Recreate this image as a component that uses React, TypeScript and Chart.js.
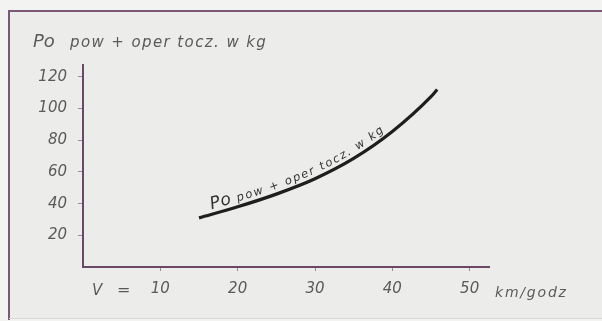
import React, { useEffect, useRef } from "react";
import { Chart, registerables } from "chart.js";

Chart.register(...registerables);

const speedKmh = [15, 20, 25, 30, 35, 40, 45, 45.8];
const resistanceKg = [31, 38, 46, 55.7, 68.5, 85.5, 107.5, 112];
const xTicks = [10, 20, 30, 40, 50];
const yTicks = [20, 40, 60, 80, 100, 120];
const titleMain = "Po";
const titleRest = "pow + oper tocz. w kg";
const curveLabelMain = "Po";
const curveLabelRest = "pow + oper tocz. w kg";
const xPrefixV = "V";
const xPrefixEq = "=";
const xUnit = "km/godz";

const INK = "#5a5a5a";
const FRAME = "#7a5877";
const AXIS = "#6c4868";
const FONT = "'DejaVu Sans', sans-serif";

function drawTextAlong(ctx: any, pts: { x: number; y: number }[], startX: number, parts: { text: string; font: string; spacing: number; lift: number }[]) {
  const cum = [0];
  for (let i = 1; i < pts.length; i++) {
    cum.push(cum[i - 1] + Math.hypot(pts[i].x - pts[i - 1].x, pts[i].y - pts[i - 1].y));
  }
  const at = (s: number) => {
    let i = 1;
    while (i < pts.length - 1 && cum[i] < s) i++;
    const seg = cum[i] - cum[i - 1] || 1;
    const t = (s - cum[i - 1]) / seg;
    return {
      x: pts[i - 1].x + (pts[i].x - pts[i - 1].x) * t,
      y: pts[i - 1].y + (pts[i].y - pts[i - 1].y) * t,
    };
  };
  let s = 0;
  while (s < cum[cum.length - 1] && at(s).x < startX) s += 0.5;
  for (const part of parts) {
    ctx.font = part.font;
    for (const ch of part.text) {
      const w = ctx.measureText(ch).width;
      const mid = s + w / 2;
      const p = at(mid);
      const a = at(mid - 10);
      const b = at(mid + 10);
      const ang = Math.atan2(b.y - a.y, b.x - a.x);
      ctx.save();
      ctx.translate(p.x, p.y);
      ctx.rotate(ang);
      ctx.textAlign = "center";
      ctx.textBaseline = "alphabetic";
      ctx.fillText(ch, 0, -part.lift);
      ctx.restore();
      s += w + part.spacing;
    }
  }
}

const decorPlugin = {
  id: "decor",
  beforeDraw(chart: any) {
    const { ctx, width, height } = chart;
    ctx.save();
    ctx.fillStyle = "#f3f3f1";
    ctx.fillRect(0, 0, width, height);
    ctx.fillStyle = "#ececea";
    ctx.fillRect(8, 10, width - 8, height - 12);
    ctx.strokeStyle = FRAME;
    ctx.lineWidth = 2;
    ctx.beginPath();
    ctx.moveTo(9, height - 1);
    ctx.lineTo(9, 11);
    ctx.lineTo(width, 11);
    ctx.stroke();
    ctx.strokeStyle = "#d8d8d6";
    ctx.lineWidth = 1;
    ctx.beginPath();
    ctx.moveTo(9, height - 2.5);
    ctx.lineTo(width, height - 2.5);
    ctx.stroke();
    ctx.restore();
  },
  afterDraw(chart: any) {
    const { ctx } = chart;
    const xs = chart.scales.x;
    const ys = chart.scales.y;
    ctx.save();
    ctx.fillStyle = INK;
    ctx.textBaseline = "alphabetic";
    ctx.font = `italic 18px ${FONT}`;
    ctx.fillText(titleMain, 33, 47);
    ctx.font = `italic 15px ${FONT}`;
    (ctx as any).letterSpacing = "1.4px";
    ctx.fillText(titleRest, 70, 47);
    (ctx as any).letterSpacing = "0px";
    ctx.textBaseline = "middle";
    ctx.font = `italic 15px ${FONT}`;
    ctx.fillText(xPrefixV, 92, ys.bottom + 24);
    ctx.font = `16px ${FONT}`;
    ctx.fillText(xPrefixEq, 117, ys.bottom + 24);
    ctx.font = `italic 14px ${FONT}`;
    (ctx as any).letterSpacing = "1.8px";
    ctx.fillText(xUnit, 495, ys.bottom + 26);
    (ctx as any).letterSpacing = "0px";
    ctx.restore();

    // curve label following the drawn curve
    const meta = chart.getDatasetMeta(0);
    const pts: { x: number; y: number }[] = [];
    const els = meta.data;
    for (let i = 0; i < els.length - 1; i++) {
      const p0 = els[i];
      const p1 = els[i + 1];
      const c1x = p0.cp2x ?? p0.x, c1y = p0.cp2y ?? p0.y;
      const c2x = p1.cp1x ?? p1.x, c2y = p1.cp1y ?? p1.y;
      for (let k = 0; k < 12; k++) {
        const t = k / 12;
        const u = 1 - t;
        pts.push({
          x: u * u * u * p0.x + 3 * u * u * t * c1x + 3 * u * t * t * c2x + t * t * t * p1.x,
          y: u * u * u * p0.y + 3 * u * u * t * c1y + 3 * u * t * t * c2y + t * t * t * p1.y,
        });
      }
    }
    pts.push({ x: els[els.length - 1].x, y: els[els.length - 1].y });
    ctx.save();
    ctx.fillStyle = "#333333";
    drawTextAlong(ctx, pts, xs.getPixelForValue(16.8), [
      { text: curveLabelMain, font: `italic 17px ${FONT}`, spacing: 0.5, lift: 5 },
      { text: " ", font: `italic 12px ${FONT}`, spacing: 2, lift: 5 },
      { text: curveLabelRest, font: `italic 11.5px ${FONT}`, spacing: 1.8, lift: 5 },
    ]);
    ctx.restore();
  },
};

export default function App() {
  const ref = useRef<HTMLCanvasElement | null>(null);
  useEffect(() => {
    document.body.style.margin = "0";
    const canvas = ref.current!;
    const chart = new Chart(canvas, {
      type: "line",
      data: {
        datasets: [
          {
            data: speedKmh.map((v, i) => ({ x: v, y: resistanceKg[i] })),
            borderColor: "#1e1e1e",
            borderWidth: 3.2,
            pointRadius: 0,
            cubicInterpolationMode: "monotone",
            fill: false,
          },
        ],
      },
      options: {
        responsive: false,
        animation: false,
        devicePixelRatio: 1,
        layout: { padding: { left: 0, top: 65, right: 113, bottom: 0 } },
        plugins: { legend: { display: false }, tooltip: { enabled: false }, title: { display: false } },
        scales: {
          x: {
            type: "linear",
            min: 0,
            max: 52.5,
            afterBuildTicks: (s: any) => {
              s.ticks = xTicks.map((v) => ({ value: v }));
            },
            afterFit: (s: any) => {
              s.height = 54;
            },
            border: { display: true, color: AXIS, width: 2 },
            grid: { drawOnChartArea: false, drawTicks: true, tickLength: 4, color: "#9a8898" },
            ticks: {
              color: INK,
              font: { family: FONT, size: 15, style: "italic" },
              padding: 9,
              maxRotation: 0,
            },
          },
          y: {
            type: "linear",
            min: 0,
            max: 127.5,
            afterBuildTicks: (s: any) => {
              s.ticks = yTicks.map((v) => ({ value: v }));
            },
            afterFit: (s: any) => {
              s.width = 83;
            },
            border: { display: true, color: AXIS, width: 2 },
            grid: { drawOnChartArea: false, drawTicks: true, tickLength: 5, color: "#9a8898" },
            ticks: {
              color: INK,
              font: { family: FONT, size: 15, style: "italic" },
              padding: 11,
            },
          },
        },
      },
      plugins: [decorPlugin],
    } as any);
    return () => chart.destroy();
  }, []);
  return <canvas ref={ref} width={602} height={321} style={{ display: "block" }} />;
}
